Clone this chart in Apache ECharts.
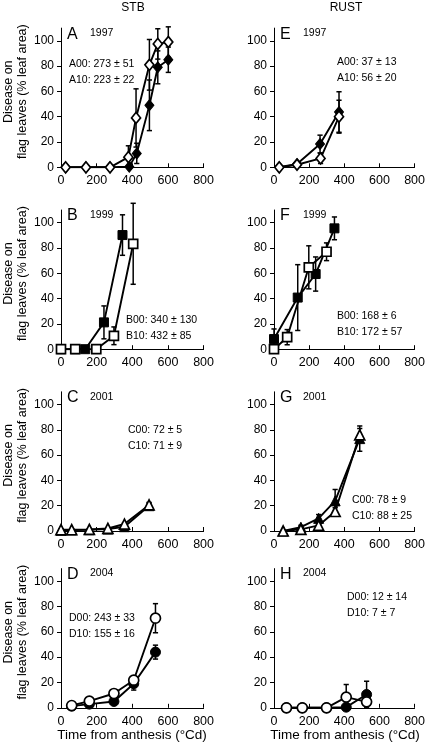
<!DOCTYPE html>
<html><head><meta charset="utf-8">
<script src="https://cdn.jsdelivr.net/npm/echarts@6/dist/echarts.min.js"></script>
<style>html,body{margin:0;padding:0;background:#fff}#c{width:428px;height:747px}</style>
</head><body><div id="c"></div>
<script>
// ---- axis ticks ----
const xTicks = [0, 200, 400, 600, 800];
const yTicks = [0, 20, 40, 60, 80, 100];

// ---- A: STB 1997 (diamonds) ----
const A_xOpen = [26, 140, 275, 378, 421, 496, 543, 602];
const A_yOpen = [0, 0, 0, 8, 39, 81, 97.5, 99];
const A_eOpen = [0, 0, 0, 9, 23, 20, 12, 12];
const A_xFill = [26, 140, 275, 383, 425, 496, 543, 602];
const A_yFill = [0, 0, 0, 0.5, 11, 49, 79, 85];
const A_eFill = [0, 0, 0, 0, 8, 20, 13, 10];

// ---- E: RUST 1997 (diamonds) ----
const E_xOpen = [30, 131, 265, 370];
const E_yOpen = [0, 2, 7, 40];
const E_eOpen = [0, 1, 4, 13];
const E_xFill = [30, 131, 262, 370];
const E_yFill = [0, 2.6, 18.4, 43.7];
const E_eFill = [0, 1, 7, 16];

// ---- B: STB 1999 (squares) ----
const B_xOpen = [0, 80, 198, 297, 405];
const B_yOpen = [0, 0, 0, 10.6, 83.3];
const B_eOpen = [0, 0, 0, 7, 32];
const B_xFill = [0, 80, 136, 241, 345];
const B_yFill = [0, 0, 0, 21.2, 90.2];
const B_eFill = [0, 0, 0, 13, 16];

// ---- F: RUST 1999 (squares) ----
const F_xOpen = [0, 75, 198, 299];
const F_yOpen = [0, 9.5, 64.7, 77];
const F_eOpen = [0, 6, 17, 7];
const F_xFill = [0, 135, 237, 344];
const F_yFill = [8, 40.8, 59.4, 95.5];
const F_eFill = [8, 26, 13.5, 9];

// ---- C: STB 2001 (triangles) ----
const C_x = [0, 60, 159, 263, 356, 494];
const C_yOpen = [1, 1, 1.3, 2, 5.5, 20.6];
const C_eOpen = [0.5, 0.5, 0.5, 0.5, 1, 2];
const C_yFill = [0.5, 0.8, 1, 1.5, 3.4, 20];
const C_eFill = [0.5, 0.5, 0.5, 0.5, 1, 2];

// ---- G: RUST 2001 (triangles) ----
const G_x = [52, 153, 254, 348, 488];
const G_yOpen = [0, 1.3, 4.4, 15.4, 76];
const G_eOpen = [0, 1, 1.5, 3, 5];
const G_yFill = [0, 3, 10, 23.8, 73];
const G_eFill = [0, 1.5, 3, 9, 10];

// ---- D: STB 2004 (circles) ----
const D_x = [60, 159, 297, 408, 530];
const D_yOpen = [1.8, 5.3, 11.3, 21.8, 70.8];
const D_eOpen = [0.5, 1, 1.5, 3, 11.5];
const D_yFill = [1.3, 2.9, 5, 19, 44];
const D_eFill = [0.5, 0.5, 1, 5, 5.5];

// ---- H: RUST 2004 (circles) ----
const H_x = [71, 161, 299, 411, 527];
const H_yOpen = [0, 0, 0, 8.4, 4.7];
const H_eOpen = [0, 0, 0, 10, 3];
const H_yFill = [0, 0, 0, 0.5, 10.5];
const H_eFill = [0, 0, 0, 0, 10.5];

// ---- texts ----
const colTitles = ['STB', 'RUST'];
const panelLetters = ['A', 'E', 'B', 'F', 'C', 'G', 'D', 'H'];
const panelYears = ['1997', '1997', '1999', '1999', '2001', '2001', '2004', '2004'];
const panelNotes = [
  ['A00: 273 ± 51', 'A10: 223 ± 22'],
  ['A00: 37 ± 13', 'A10: 56 ± 20'],
  ['B00: 340 ± 130', 'B10: 432 ± 85'],
  ['B00: 168 ± 6', 'B10: 172 ± 57'],
  ['C00: 72 ± 5', 'C10: 71 ± 9'],
  ['C00: 78 ± 9', 'C10: 88 ± 25'],
  ['D00: 243 ± 33', 'D10: 155 ± 16'],
  ['D00: 12 ± 14', 'D10: 7 ± 7']
];
const yTitle = ['Disease on', 'flag leaves (% leaf area)'];
const xTitle = 'Time from anthesis (°Cd)';

// ---- layout ----
const FONT = '"Liberation Sans", Arial, Helvetica, sans-serif';
const colLeft = [61, 274];
const gridW = 142.6;
const rowBottom = [167.3, 349.2, 531, 707.8];
const gridH = 139.2;
const notePos = [ // [x, y of first line]
  [69, 64], [337, 62], [126, 320], [337, 316],
  [128, 430], [352, 500], [69, 618], [347, 597]
];

const panels = [
  {sym: 'diamond', size: [9, 11], xo: A_xOpen, yo: A_yOpen, eo: A_eOpen, xf: A_xFill, yf: A_yFill, ef: A_eFill},
  {sym: 'diamond', size: [9, 11], xo: E_xOpen, yo: E_yOpen, eo: E_eOpen, xf: E_xFill, yf: E_yFill, ef: E_eFill},
  {sym: 'rect', size: 9, xo: B_xOpen, yo: B_yOpen, eo: B_eOpen, xf: B_xFill, yf: B_yFill, ef: B_eFill},
  {sym: 'rect', size: 9, xo: F_xOpen, yo: F_yOpen, eo: F_eOpen, xf: F_xFill, yf: F_yFill, ef: F_eFill},
  {sym: 'triangle', size: 10, xo: C_x, yo: C_yOpen, eo: C_eOpen, xf: C_x, yf: C_yFill, ef: C_eFill},
  {sym: 'triangle', size: 10, xo: G_x, yo: G_yOpen, eo: G_eOpen, xf: G_x, yf: G_yFill, ef: G_eFill},
  {sym: 'circle', size: 10, xo: D_x, yo: D_yOpen, eo: D_eOpen, xf: D_x, yf: D_yFill, ef: D_eFill},
  {sym: 'circle', size: 10, xo: H_x, yo: H_yOpen, eo: H_eOpen, xf: H_x, yf: H_yFill, ef: H_eFill}
];

const grids = [], xAxes = [], yAxes = [], series = [], graphics = [];

function errRender(params, api) {
  const x = api.value(0), y = api.value(1), e = api.value(2);
  if (!e) return null;
  const t = api.coord([x, y + e]);
  const b = api.coord([x, Math.max(0, y - e)]);
  const w = 2.6, st = {stroke: '#000', lineWidth: 1.5};
  return {type: 'group', children: [
    {type: 'line', shape: {x1: t[0], y1: t[1], x2: b[0], y2: b[1]}, style: st},
    {type: 'line', shape: {x1: t[0] - w, y1: t[1], x2: t[0] + w, y2: t[1]}, style: st},
    {type: 'line', shape: {x1: b[0] - w, y1: b[1], x2: b[0] + w, y2: b[1]}, style: st}
  ]};
}

panels.forEach((p, i) => {
  const col = i % 2, row = Math.floor(i / 2);
  const top = rowBottom[row] - gridH;
  grids.push({left: colLeft[col], top: top, width: gridW, height: gridH, containLabel: false});
  xAxes.push({
    gridIndex: i, type: 'value', min: 0, max: 800, interval: 200,
    axisLine: {lineStyle: {color: '#000', width: 1}},
    axisTick: {inside: true, length: 4, lineStyle: {color: '#000'}},
    axisLabel: {color: '#000', fontSize: 12.5, fontFamily: FONT, margin: 7,
      customValues: xTicks},
    splitLine: {show: false}
  });
  yAxes.push({
    gridIndex: i, type: 'value', min: 0, max: 110,
    axisLine: {show: true, lineStyle: {color: '#000', width: 1}},
    axisTick: {show: true, length: 4, lineStyle: {color: '#000'}, customValues: yTicks},
    axisLabel: {color: '#000', fontSize: 12, fontFamily: FONT, margin: 7, customValues: yTicks},
    splitLine: {show: false}
  });
  const mk = (xs, ys) => xs.map((x, k) => [x, ys[k]]);
  const mkE = (xs, ys, es) => xs.map((x, k) => [x, ys[k], es[k]]);
  series.push({type: 'custom', xAxisIndex: i, yAxisIndex: i, renderItem: errRender, clip: false,
    data: mkE(p.xf, p.yf, p.ef), encode: {x: 0, y: 1}, z: 1, silent: true});
  series.push({type: 'custom', xAxisIndex: i, yAxisIndex: i, renderItem: errRender, clip: false,
    data: mkE(p.xo, p.yo, p.eo), encode: {x: 0, y: 1}, z: 1, silent: true});
  series.push({type: 'line', xAxisIndex: i, yAxisIndex: i, data: mk(p.xf, p.yf),
    symbol: p.sym, symbolSize: p.size, showAllSymbol: true, z: 3,
    lineStyle: {color: '#000', width: 1.9},
    itemStyle: {color: '#000', borderColor: '#000', borderWidth: 1}, animation: false});
  series.push({type: 'line', xAxisIndex: i, yAxisIndex: i, data: mk(p.xo, p.yo),
    symbol: p.sym, symbolSize: p.size, showAllSymbol: true, z: 4,
    lineStyle: {color: '#000', width: 1.9},
    itemStyle: {color: '#fff', borderColor: '#000', borderWidth: 1.7}, animation: false});

  // letters / years / notes
  const lx = colLeft[col] + 6;
  graphics.push({type: 'text', x: lx, y: top + 6, style: {text: panelLetters[i], font: '16px ' + FONT, fill: '#000', verticalAlign: 'middle'}});
  graphics.push({type: 'text', x: lx + 23, y: top + 5, style: {text: panelYears[i], font: '10.5px ' + FONT, fill: '#000', verticalAlign: 'middle'}});
  panelNotes[i].forEach((t, k) => {
    graphics.push({type: 'text', x: notePos[i][0], y: notePos[i][1] + k * 16,
      style: {text: t, font: '10.5px ' + FONT, fill: '#000', verticalAlign: 'middle'}});
  });
  if (col === 0) {
    const cy = top + gridH / 2 - 6;
    graphics.push({type: 'text', x: 9, y: cy, rotation: Math.PI / 2,
      style: {text: yTitle[0], font: '12.5px ' + FONT, fill: '#000', align: 'center', verticalAlign: 'middle'}});
    graphics.push({type: 'text', x: 23, y: cy, rotation: Math.PI / 2,
      style: {text: yTitle[1], font: '12.5px ' + FONT, fill: '#000', align: 'center', verticalAlign: 'middle'}});
  }
});

colTitles.forEach((t, c) => {
  graphics.push({type: 'text', x: colLeft[c] + 72, y: 8,
    style: {text: t, font: '12px ' + FONT, fill: '#000', align: 'center', verticalAlign: 'middle'}});
  graphics.push({type: 'text', x: colLeft[c] + 71, y: 735,
    style: {text: xTitle, font: '13.5px ' + FONT, fill: '#000', align: 'center', verticalAlign: 'middle'}});
});

const chart = echarts.init(document.getElementById('c'), null, {renderer: 'canvas'});
chart.setOption({
  animation: false,
  backgroundColor: '#fff',
  grid: grids, xAxis: xAxes, yAxis: yAxes, series: series, graphic: graphics
});
</script></body></html>
